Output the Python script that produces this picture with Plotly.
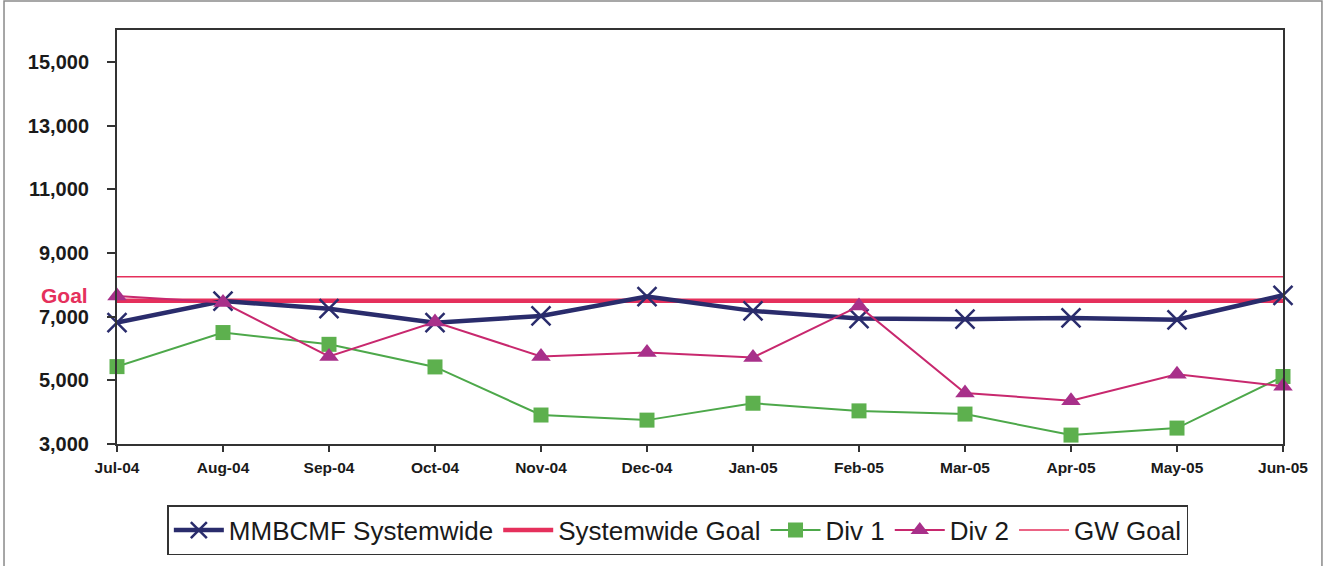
import plotly.graph_objects as go

# Monthly figures, July 2004 through June 2005
months = ["Jul-04", "Aug-04", "Sep-04", "Oct-04", "Nov-04", "Dec-04",
          "Jan-05", "Feb-05", "Mar-05", "Apr-05", "May-05", "Jun-05"]
systemwide = [6810, 7490, 7250, 6810, 7020, 7630, 7180, 6940, 6920, 6960, 6900, 7670]
div1 = [5430, 6500, 6130, 5420, 3910, 3750, 4280, 4040, 3940, 3280, 3500, 5120]
div2 = [7650, 7440, 5750, 6830, 5750, 5870, 5720, 7330, 4600, 4360, 5190, 4810]
systemwide_goal = 7500
gw_goal = 8250

y_ticks = [3000, 5000, 7000, 9000, 11000, 13000, 15000]
y_tick_text = ["3,000", "5,000", "7,000", "9,000", "11,000", "13,000", "15,000"]

NAVY = "#2a2c6c"
GOAL_RED = "#e5305c"
GREEN = "#4da84a"
GREEN_MARK = "#5db04e"
DIV2_LINE = "#c8286e"
DIV2_MARK = "#a8308a"

fig = go.Figure()

fig.add_trace(go.Scatter(
    x=months, y=[gw_goal] * len(months), name="GW Goal", mode="lines",
    line=dict(color=GOAL_RED, width=1.5), legendrank=5, cliponaxis=False))
fig.add_trace(go.Scatter(
    x=months, y=[systemwide_goal] * len(months), name="Systemwide Goal", mode="lines",
    line=dict(color=GOAL_RED, width=4.5), legendrank=2, cliponaxis=False))
fig.add_trace(go.Scatter(
    x=months, y=systemwide, name="MMBCMF Systemwide", mode="lines+markers",
    line=dict(color=NAVY, width=4.5),
    marker=dict(symbol="x-thin", size=19, color=NAVY, line=dict(color=NAVY, width=2.5)),
    legendrank=1, cliponaxis=False))
fig.add_trace(go.Scatter(
    x=months, y=div1, name="Div 1", mode="lines+markers",
    line=dict(color=GREEN, width=2),
    marker=dict(symbol="square", size=15, color=GREEN_MARK),
    legendrank=3, cliponaxis=False))
fig.add_trace(go.Scatter(
    x=months, y=div2, name="Div 2", mode="lines+markers",
    line=dict(color=DIV2_LINE, width=2),
    marker=dict(symbol="triangle-up", size=17, color=DIV2_MARK),
    legendrank=4, cliponaxis=False))

# "Goal" marker text beside the value axis
fig.add_annotation(
    x=0, xref="paper", y=systemwide_goal, yref="y", text="Goal",
    xanchor="right", yanchor="middle", xshift=-27, yshift=5, showarrow=False,
    font=dict(family="Liberation Sans, Arial", size=21, weight="bold", color=GOAL_RED))

# Light frame around the whole chart
fig.add_shape(type="rect", xref="paper", yref="paper",
              x0=-0.0969, x1=1.0334, y0=-0.32, y1=1.0699,
              line=dict(color="#8a8a8a", width=1.5), fillcolor="rgba(0,0,0,0)", layer="below")

fig.update_layout(
    width=1325, height=566,
    margin=dict(l=117, r=42, t=30, b=121),
    paper_bgcolor="white", plot_bgcolor="white",
    font=dict(family="Liberation Sans, Arial", color="#1a1a1a"),
    showlegend=True,
    legend=dict(
        orientation="h", x=0.481, xanchor="center", y=-0.145, yanchor="top",
        font=dict(family="Liberation Sans, Arial", size=26, color="#1a1a1a"),
        bordercolor="#333333", borderwidth=1.5, bgcolor="white",
        traceorder="normal", itemwidth=50),
    xaxis=dict(
        type="category", range=[0, len(months) - 1],
        showline=True, linecolor="#333333", linewidth=2, mirror=True,
        ticks="outside", ticklen=6, tickcolor="#333333", tickwidth=1.5,
        showgrid=False, zeroline=False, ticklabelstandoff=2,
        tickfont=dict(family="Liberation Sans, Arial", size=15.5, weight="bold", color="#1a1a1a")),
    yaxis=dict(
        range=[3000, 16000], tickvals=y_ticks, ticktext=y_tick_text,
        showline=True, linecolor="#333333", linewidth=2, mirror=True,
        ticks="outside", ticklen=8, tickcolor="#333333", tickwidth=1.5,
        showgrid=False, zeroline=False, ticklabelstandoff=14,
        tickfont=dict(family="Liberation Sans, Arial", size=20, weight="bold", color="#1a1a1a")),
)

fig.write_html("out.html")
